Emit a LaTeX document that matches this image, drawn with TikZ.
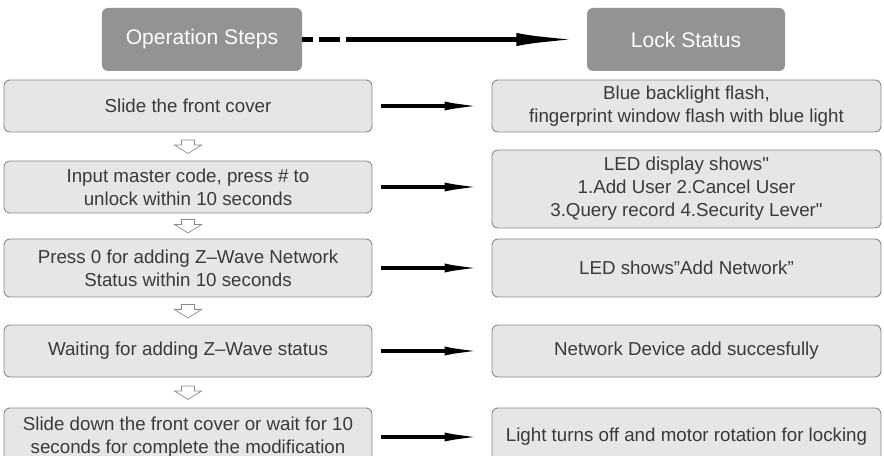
\documentclass[tikz,border=0pt]{standalone}
\usepackage{fontspec}
\setmainfont{Liberation Sans}
\usepackage{xcolor}
\usepackage{tikz}
\usetikzlibrary{shapes,arrows,positioning,calc,arrows.meta}

\definecolor{headgray}{HTML}{939396}
\definecolor{boxgray}{HTML}{E6E6E7}
\definecolor{edgegray}{HTML}{8A8A8C}
\definecolor{textgray}{HTML}{3A3A3A}

\tikzset{
    headbox/.style={rectangle, rounded corners=0.18cm, fill=headgray, draw=none,
        minimum width=6cm, minimum height=1.89cm, text=white,
        font=\fontsize{18}{22}\selectfont},
    stepbox/.style={rectangle, rounded corners=0.18cm, fill=boxgray, draw=edgegray,
        line width=0.8pt, minimum width=11.04cm, minimum height=1.56cm,
        align=center, text=textgray, font=\fontsize{16}{19.6}\selectfont},
    statebox/.style={stepbox, minimum width=11.67cm},
    flowarrow/.style={line width=3.4pt, -{Latex[length=37pt,width=7.5pt]}},
    nextarrow/.style={draw=edgegray, fill=white, line width=0.6pt, line join=miter}
}

\begin{document}
\begin{tikzpicture}[x=0.03cm, y=-0.03cm]
    \clip (0,0) rectangle (884,456);
    \useasboundingbox (0,0) rectangle (884,456);

    % Headers
    \node[headbox] (ops) at (202,39.5) {Operation Steps};
    \node[headbox, minimum width=5.94cm] (lock) at (686,39.5) {Lock Status};
    \draw[line width=4.7pt, dash pattern=on 9.4pt off 5.1pt on 17.9pt off 5.1pt on 400pt off 0pt,
        -{Latex[length=60pt,width=11pt]}] (ops.east) -- (lock.west);

    % Operation steps
    \node[stepbox] (s1) at (188,106) {Slide the front cover};
    \node[stepbox] (s2) at (188,187) {Input master code, press \# to\\unlock within 10 seconds};
    \node[stepbox, minimum height=1.74cm] (s3) at (188,268) {Press 0 for adding Z--Wave Network\\Status within 10 seconds};
    \node[stepbox] (s4) at (188,351) {Waiting for adding Z--Wave status};
    \node[stepbox, minimum height=1.74cm] (s5) at (188,437) {Slide down the front cover or wait for 10\\seconds for complete the modification};

    % Lock status
    \node[statebox] (r1) at (686.5,106) {Blue backlight flash,\\fingerprint window flash with blue light};
    \node[statebox, minimum height=2.34cm] (r2) at (686.5,189) {LED display shows\textquotedbl\\1.Add User 2.Cancel User\\3.Query record 4.Security Lever\textquotedbl};
    \node[statebox, minimum height=1.74cm] (r3) at (686.5,268) {LED shows”Add Network”};
    \node[statebox] (r4) at (686.5,351) {Network Device add succesfully};
    \node[statebox, minimum height=1.74cm] (r5) at (686.5,437) {Light turns off and motor rotation for locking};

    % Down arrows
    \foreach \a/\b in {s1/s2, s2/s3, s3/s4, s4/s5} {
        \coordinate (d\a) at ($(\a.south)!0.5!(\b.north)$);
        \draw[nextarrow] (d\a) ++(-6.5,-6.5) -- ++(13,0) -- ++(0,5) -- ++(7,0)
            -- ++(-13.5,8.5) -- ++(-13.5,-8.5) -- ++(7,0) -- cycle;
    }

    % Step to status arrows
    \foreach \i in {1,...,5}
        \draw[flowarrow, shorten <=7pt, shorten >=3pt] (s\i.east) -- (s\i.east -| r\i.west);
\end{tikzpicture}
\end{document}
